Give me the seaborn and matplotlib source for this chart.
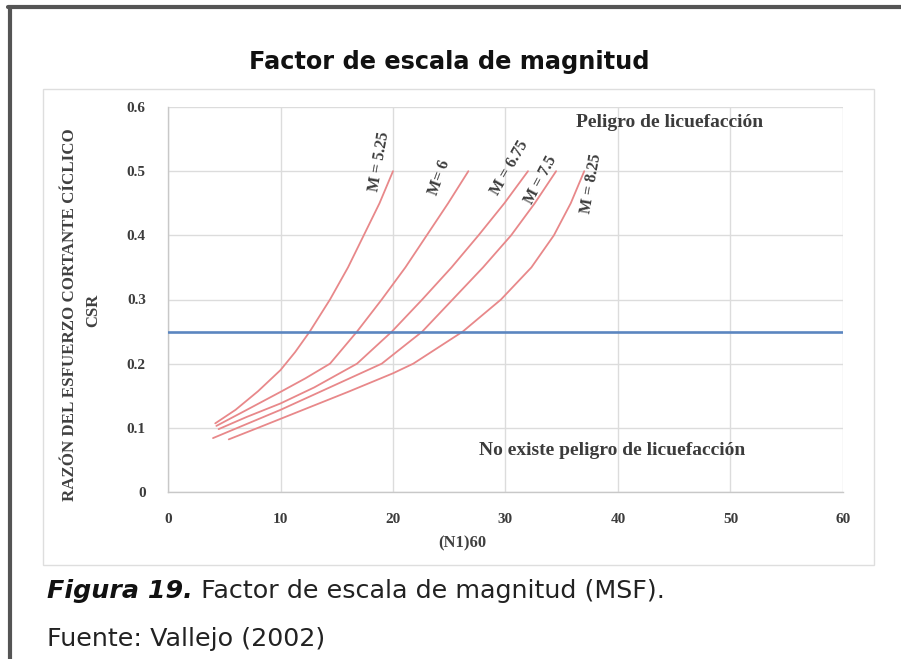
import matplotlib
matplotlib.use("Agg")
import matplotlib.pyplot as plt
import seaborn as sns
import pandas as pd
from matplotlib.lines import Line2D
from matplotlib.patches import Rectangle

# ---------------- data ----------------
magnitudes = ["M = 5.25", "M= 6", "M = 6.75", "M = 7.5", "M = 8.25"]

n160_m525 = [4.2, 6.0, 8.0, 10.0, 11.3, 12.6, 14.4, 16.0, 17.4, 18.8, 20.0]
csr_m525 = [0.107, 0.128, 0.157, 0.19, 0.218, 0.25, 0.30, 0.35, 0.40, 0.45, 0.50]

n160_m6 = [4.3, 7.0, 10.0, 12.2, 14.4, 16.8, 19.0, 21.1, 23.0, 24.9, 26.7]
csr_m6 = [0.103, 0.128, 0.156, 0.177, 0.20, 0.25, 0.30, 0.35, 0.40, 0.45, 0.50]

n160_m675 = [4.5, 7.0, 10.0, 13.0, 16.8, 19.9, 22.6, 25.2, 27.6, 29.9, 32.0]
csr_m675 = [0.098, 0.117, 0.138, 0.163, 0.20, 0.25, 0.30, 0.35, 0.40, 0.45, 0.50]

n160_m75 = [4.0, 7.0, 10.0, 13.0, 16.0, 19.0, 22.6, 25.3, 28.0, 30.5, 32.6, 34.5]
csr_m75 = [0.084, 0.106, 0.128, 0.152, 0.176, 0.20, 0.25, 0.30, 0.35, 0.40, 0.45, 0.50]

n160_m825 = [5.4, 8.0, 10.0, 13.0, 16.0, 20.0, 21.8, 26.2, 29.6, 32.3, 34.3, 35.8, 37.0]
csr_m825 = [0.082, 0.10, 0.114, 0.135, 0.156, 0.185, 0.20, 0.25, 0.30, 0.35, 0.40, 0.45, 0.50]

csr_threshold = 0.25

x_ticks = [0, 10, 20, 30, 40, 50, 60]
y_ticks = [0, 0.1, 0.2, 0.3, 0.4, 0.5, 0.6]
y_tick_labels = ["0", "0.1", "0.2", "0.3", "0.4", "0.5", "0.6"]

title_text = "Factor de escala de magnitud"
ylabel_line1 = "RAZÓN DEL ESFUERZO CORTANTE CÍCLICO"
ylabel_line2 = "CSR"
xlabel_text = "(N1)60"
zone_high = "Peligro de licuefacción"
zone_low = "No existe peligro de licuefacción"
caption_bold = "Figura 19."
caption_rest = " Factor de escala de magnitud (MSF)."
source_text = "Fuente: Vallejo (2002)"

# label anchor positions (data coords) and rotation per curve
label_pos = [(18.8, 0.515, 80), (24.1, 0.49, 70), (30.4, 0.505, 60),
             (33.1, 0.486, 62), (37.6, 0.48, 80)]

# ---------------- build table ----------------
series = [(n160_m525, csr_m525), (n160_m6, csr_m6), (n160_m675, csr_m675),
          (n160_m75, csr_m75), (n160_m825, csr_m825)]
rows = []
for name, (xs, ys) in zip(magnitudes, series):
    for xv, yv in zip(xs, ys):
        rows.append({"N160": xv, "CSR": yv, "M": name})
df = pd.DataFrame(rows)

sns.set_style("white")
plt.rcParams["font.family"] = ["Liberation Serif", "DejaVu Serif"]

W, H = 901, 659
fig = plt.figure(figsize=(W / 100, H / 100), dpi=100)
fig.patch.set_facecolor("white")

ax_left, ax_right, ax_top, ax_bottom = 168, 843, 107, 492
ax = fig.add_axes([ax_left / W, 1 - ax_bottom / H,
                   (ax_right - ax_left) / W, (ax_bottom - ax_top) / H])

curve_color = "#e8888a"
sns.lineplot(data=df, x="N160", y="CSR", hue="M", units="M", estimator=None,
             palette=[curve_color] * len(magnitudes), linewidth=1.3,
             legend=False, ax=ax, sort=False)
ax.axhline(csr_threshold, color="#5b86c0", linewidth=1.9, zorder=3)

ax.set_xlim(0, 60)
ax.set_ylim(0, 0.6)
ax.set_xticks(x_ticks)
ax.set_yticks(y_ticks)
ax.set_yticklabels(y_tick_labels)
ax.grid(True, color="#dcdcdc", linewidth=1.0)
ax.set_axisbelow(True)
for s in ["top", "right"]:
    ax.spines[s].set_visible(False)
for s in ["left", "bottom"]:
    ax.spines[s].set_color("#c8c8c8")
    ax.spines[s].set_linewidth(1.0)
ax.tick_params(axis="both", length=0, labelsize=11, colors="#3c3c3c")
ax.tick_params(axis="y", pad=16)
ax.tick_params(axis="x", pad=15)
for lab in ax.get_xticklabels() + ax.get_yticklabels():
    lab.set_fontweight("bold")
ax.set_xlabel("")
ax.set_ylabel("")

# curve labels
for name, (lx, ly, rot) in zip(magnitudes, label_pos):
    ax.text(lx, ly, name, rotation=rot, ha="center", va="center",
            fontsize=11.5, color="#3c3c3c", fontweight="bold",
            rotation_mode="anchor")

ax.text(44.6, 0.576, zone_high, ha="center", va="center", fontsize=14,
        color="#3c3c3c", fontweight="bold")
ax.text(39.5, 0.065, zone_low, ha="center", va="center", fontsize=14,
        color="#3c3c3c", fontweight="bold")

# axis titles
fig.text(70 / W, 1 - 315 / H, ylabel_line1, rotation=90, ha="center",
         va="center", fontsize=12.2, fontweight="bold", color="#404040")
fig.text(93 / W, 1 - 310 / H, ylabel_line2, rotation=90, ha="center",
         va="center", fontsize=12, fontweight="bold", color="#404040")
fig.text(462 / W, 1 - 543 / H, xlabel_text, ha="center", va="center",
         fontsize=12, fontweight="bold", color="#404040")

# title
fig.text(449 / W, 1 - 62 / H, title_text, ha="center", va="center",
         fontsize=17.3, fontweight="bold", color="#111111",
         family=["DejaVu Sans"])

# chart box and page frame
fig.add_artist(Rectangle((43 / W, 1 - 565 / H), (874 - 43) / W, (565 - 89) / H,
                         transform=fig.transFigure, fill=False,
                         edgecolor="#dedede", linewidth=1.0))
fig.add_artist(Line2D([8 / W, 1], [1 - 7 / H, 1 - 7 / H], transform=fig.transFigure,
                      color="#555555", linewidth=3))
fig.add_artist(Line2D([9.5 / W, 9.5 / W], [0, 1 - 7 / H], transform=fig.transFigure,
                      color="#555555", linewidth=3))

# caption
cap_size = 18.3
t1 = fig.text(47 / W, 1 - 591 / H, caption_bold, ha="left", va="center",
              fontsize=cap_size, fontweight="bold", fontstyle="italic",
              color="#111111", family=["DejaVu Sans"])
fig.canvas.draw()
bb = t1.get_window_extent(renderer=fig.canvas.get_renderer())
fig.text(bb.x1 / W, 1 - 591 / H, caption_rest, ha="left", va="center",
         fontsize=cap_size, color="#222222", family=["DejaVu Sans"])
fig.text(47 / W, 1 - 639 / H, source_text, ha="left", va="center",
         fontsize=cap_size, color="#222222", family=["DejaVu Sans"])

fig.savefig("out.png", dpi=100, facecolor="white")
